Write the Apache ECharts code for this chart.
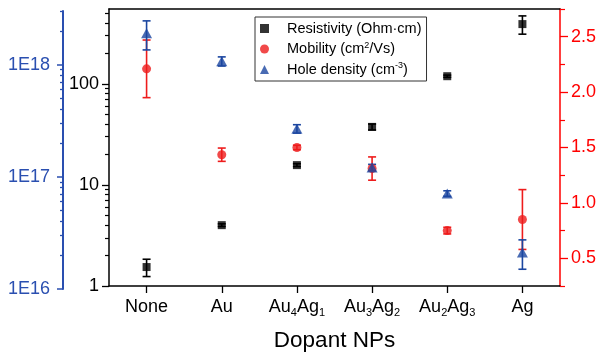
<!DOCTYPE html>
<html>
<head>
<meta charset="utf-8">
<script src="https://cdn.jsdelivr.net/npm/echarts@6/dist/echarts.min.js"></script>
<style>html,body{margin:0;padding:0;background:#fff}#c{width:600px;height:357px}</style>
</head>
<body>
<div id="c"></div>
<script>
// ---- data ----
var categories = ['None', 'Au', 'Au4Ag1', 'Au3Ag2', 'Au2Ag3', 'Ag'];
var resistivity = [1.54, 4.0, 15.7, 37.5, 119, 390];
var resistivityErr = [0.3, 0.12, 0.5, 2.5, 3, 80];
var mobility = [2.21, 1.435, 1.50, 1.31, 0.75, 0.85];
var mobilityErr = [0.26, 0.06, 0.02, 0.105, 0.03, 0.27];
var holeDensity = [1.9e18, 1.07e18, 2.68e17, 1.21e17, 7.1e16, 2.12e16];
var holeDensityErr = [0.55e18, 0.1e18, 0.23e17, 0.08e17, 0.4e16, 0.62e16];
var resTickLabels = [1, 10, 100];
var resMinorTicks = [2,3,4,5,6,7,8,9,20,30,40,50,60,70,80,90,200,300,400,500];
var mobTickLabels = [0.5, 1.0, 1.5, 2.0, 2.5];
var mobMinorTicks = [0.25, 0.75, 1.25, 1.75, 2.25, 2.75];
var holeTickLabels = [1e16, 1e17, 1e18];
var holeMinorTicks = [2e16,3e16,4e16,5e16,6e16,7e16,8e16,9e16,2e17,3e17,4e17,5e17,6e17,7e17,8e17,9e17,2e18,3e18];
var seriesNames = ['Resistivity (Ohm·cm)', 'Mobility (cm2/Vs)', 'Hole density (cm-3)'];

var FONT = '"Liberation Sans", Arial, sans-serif';
var BLACK = '#000000', RED = '#ee1c1c', BLUE = '#1b46a0';
var RED_AX = '#ff0000', BLUE_AX = '#2a4fb0';

function errData(vals, errs) {
  return vals.map(function (v, i) { return [i, v - errs[i], v + errs[i]]; });
}
function errRender(color) {
  return function (params, api) {
    var x = api.value(0), lo = api.value(1), hi = api.value(2);
    var p1 = api.coord([x, hi]), p2 = api.coord([x, lo]);
    var w = 4, st = { stroke: color, lineWidth: 1.6 };
    return { type: 'group', children: [
      { type: 'line', shape: { x1: p1[0], y1: p1[1], x2: p2[0], y2: p2[1] }, style: st },
      { type: 'line', shape: { x1: p1[0] - w, y1: p1[1], x2: p1[0] + w, y2: p1[1] }, style: st },
      { type: 'line', shape: { x1: p2[0] - w, y1: p2[1], x2: p2[0] + w, y2: p2[1] }, style: st }
    ]};
  };
}
function catLabel(v) {
  return v.replace(/([A-Za-z]+)(\d*)/g, function (m, a, d) {
    return '{m|' + a + '}' + (d ? '{s|' + d + '}' : '');
  });
}
function legendLabel(name) {
  if (name === seriesNames[0]) return '{t|Resistivity (Ohm·cm)}';
  if (name === seriesNames[1]) return '{t|Mobility (cm}{sup|2}{u|/Vs)}';
  return '{t|Hole density (cm}{sup|-3}{u|)}';
}

function minorAxis(base) {
  var a = Object.assign({}, base);
  a.axisLine = { show: false };
  a.axisLabel = { show: false };
  a.splitLine = { show: false };
  return a;
}

var yRes = { type: 'log', logBase: 10, gridIndex: 0, position: 'left', min: 1, max: 550,
  axisLine: { show: true, lineStyle: { color: BLACK, width: 1.5 } },
  axisTick: { show: true, inside: false, length: 7, customValues: resTickLabels, lineStyle: { color: BLACK, width: 1.3 } },
  axisLabel: { customValues: resTickLabels, fontSize: 18, color: BLACK, fontFamily: FONT, margin: 10,
    formatter: function (v) { return String(Math.round(v)); } },
  splitLine: { show: false } };
var yResMinor = minorAxis(yRes);
yResMinor.axisTick = { show: true, inside: false, length: 4, customValues: resMinorTicks, lineStyle: { color: BLACK, width: 1.2 } };

var yMob = { type: 'value', gridIndex: 0, position: 'right', min: 0.25, max: 2.75,
  axisLine: { show: true, lineStyle: { color: RED_AX, width: 1.5 } },
  axisTick: { show: true, inside: false, length: 8, customValues: mobTickLabels, lineStyle: { color: RED_AX, width: 1.3 } },
  axisLabel: { customValues: mobTickLabels, fontSize: 18, color: RED_AX, fontFamily: FONT, margin: 11,
    formatter: function (v) { return Number(v).toFixed(1); } },
  splitLine: { show: false } };
var yMobMinor = minorAxis(yMob);
yMobMinor.axisTick = { show: true, inside: false, length: 5, customValues: mobMinorTicks, lineStyle: { color: RED_AX, width: 1.2 } };

var yHole = { type: 'log', logBase: 10, gridIndex: 1, position: 'left', offset: 46, min: 1e16, max: 3e18,
  axisLine: { show: true, lineStyle: { color: BLUE_AX, width: 2 } },
  axisTick: { show: true, inside: false, length: 6, customValues: holeTickLabels, lineStyle: { color: BLUE_AX, width: 1.5 } },
  axisLabel: { customValues: holeTickLabels, fontSize: 18, color: BLUE_AX, fontFamily: FONT, margin: 13,
    formatter: function (v) { return '1E' + Math.round(Math.log10(v)); } },
  splitLine: { show: false } };
var yHoleMinor = minorAxis(yHole);
yHoleMinor.axisTick = { show: true, inside: false, length: 3, customValues: holeMinorTicks, lineStyle: { color: BLUE_AX, width: 1.3 } };

var option = {
  animation: false,
  backgroundColor: '#fff',
  grid: [
    { left: 109, right: 40, top: 9, bottom: 70 },
    { left: 109, right: 40, top: 11, bottom: 68 }
  ],
  legend: {
    orient: 'vertical', left: 255, top: 17, padding: [4, 5, 4, 5], itemGap: 5,
    itemWidth: 9, itemHeight: 9, borderColor: '#333', borderWidth: 1,
    data: [
      { name: seriesNames[0], icon: 'rect' },
      { name: seriesNames[1], icon: 'circle' },
      { name: seriesNames[2], icon: 'triangle' }
    ],
    formatter: legendLabel,
    textStyle: { fontFamily: FONT, color: BLACK, fontSize: 14.5,
      rich: {
        t: { fontSize: 14.5, fontFamily: FONT, color: BLACK, lineHeight: 16, padding: [0, 0, 0, 13] },
        u: { fontSize: 14.5, fontFamily: FONT, color: BLACK, lineHeight: 16 },
        sup: { fontSize: 9, fontFamily: FONT, color: BLACK, lineHeight: 16, verticalAlign: 'top' }
      } }
  },
  xAxis: [
    { type: 'category', gridIndex: 0, position: 'bottom', data: categories,
      axisLine: { show: true, lineStyle: { color: BLACK, width: 1.5 } },
      axisTick: { show: true, alignWithLabel: true, length: 7, lineStyle: { color: BLACK, width: 1.3 } },
      axisLabel: { interval: 0, margin: 10, formatter: catLabel,
        rich: {
          m: { fontSize: 18, fontFamily: FONT, color: BLACK, lineHeight: 22 },
          s: { fontSize: 11, fontFamily: FONT, color: BLACK, lineHeight: 22, verticalAlign: 'bottom' }
        } },
      name: 'Dopant NPs', nameLocation: 'middle', nameGap: 43,
      nameTextStyle: { fontSize: 22.5, fontFamily: FONT, color: BLACK }
    },
    { type: 'category', gridIndex: 0, position: 'top', data: categories,
      axisLine: { show: true, lineStyle: { color: BLACK, width: 1.5 } },
      axisTick: { show: false }, axisLabel: { show: false } },
    { type: 'category', gridIndex: 1, data: categories, show: false }
  ],
  yAxis: [yRes, yResMinor, yMob, yMobMinor, yHole, yHoleMinor],
  series: [
    { name: 'resErr', type: 'custom', xAxisIndex: 0, yAxisIndex: 0, renderItem: errRender(BLACK),
      encode: { x: 0, y: [1, 2] }, data: errData(resistivity, resistivityErr) },
    { name: seriesNames[0], type: 'scatter', xAxisIndex: 0, yAxisIndex: 0, symbol: 'rect', symbolSize: 8,
      itemStyle: { color: BLACK }, data: resistivity },
    { name: 'mobErr', type: 'custom', xAxisIndex: 0, yAxisIndex: 2, renderItem: errRender(RED),
      encode: { x: 0, y: [1, 2] }, data: errData(mobility, mobilityErr) },
    { name: seriesNames[1], type: 'scatter', xAxisIndex: 0, yAxisIndex: 2, symbol: 'circle', symbolSize: 9,
      itemStyle: { color: RED }, data: mobility },
    { name: 'holeErr', type: 'custom', xAxisIndex: 2, yAxisIndex: 4, renderItem: errRender(BLUE),
      encode: { x: 0, y: [1, 2] }, data: errData(holeDensity, holeDensityErr) },
    { name: seriesNames[2], type: 'scatter', xAxisIndex: 2, yAxisIndex: 4, symbol: 'triangle', symbolSize: [11, 10],
      itemStyle: { color: BLUE }, data: holeDensity }
  ]
};
var chart = echarts.init(document.getElementById('c'), null, { renderer: 'canvas' });
chart.setOption(option);
</script>
</body>
</html>
